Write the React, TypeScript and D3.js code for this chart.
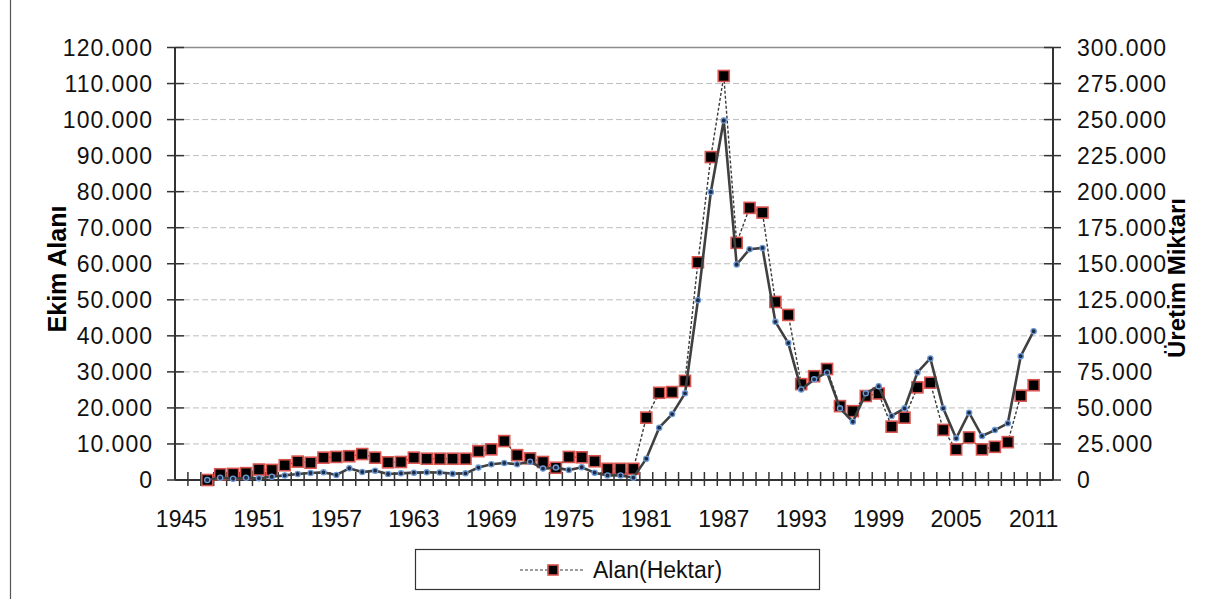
import { useEffect, useRef } from 'react';
import * as d3 from 'd3';

/**
 * Dual-axis line chart: ekim alanı (hectares, left axis) and üretim miktarı
 * (right axis) per year, 1947–2011. Category axis runs 1945–2012 with a
 * label every sixth year, Excel style.
 */

const WIDTH = 1219;
const HEIGHT = 599;
const PLOT = { left: 175, right: 1053, top: 47.5, bottom: 480 } as const;

const FONT = 'Liberation Sans, Arial, Helvetica, sans-serif';

const CATEGORY_YEARS = d3.range(1945, 2013);
const DATA_YEARS = d3.range(1947, 2012);

const alanHektar = [
  0, 1600, 1700, 1900, 2900, 2800, 4100, 5100, 4800, 6200,
  6400, 6600, 7200, 6200, 4900, 5000, 6200, 5900, 5900, 5900,
  5900, 8000, 8500, 10800, 6900, 6000, 5000, 3400, 6400, 6300,
  5200, 3100, 3100, 3100, 17300, 24200, 24400, 27500, 60400, 89600,
  112100, 65800, 75500, 74200, 49400, 45800, 26600, 28800, 30800, 20500,
  19100, 23300, 24000, 14800, 17300, 25700, 27000, 13900, 8500, 11800,
  8500, 9200, 10500, 23400, 26300,
];

const uretimMiktari = [
  0, 1600, 900, 1600, 1200, 2300, 3200, 4200, 4900, 5300,
  3500, 8100, 5500, 6500, 4200, 4600, 5100, 5300, 5200, 4400,
  4600, 8600, 10900, 11800, 10900, 12700, 7900, 8600, 6900, 8800,
  5100, 3200, 3200, 1600, 14800, 36300, 45700, 60100, 124700, 199800,
  249400, 149500, 160100, 161000, 109700, 95000, 62800, 69800, 74600, 49700,
  40400, 60100, 65100, 44400, 49700, 74600, 84300, 49700, 28900, 46700,
  30500, 34600, 39300, 85900, 103200,
];

const leftTicks = d3.range(0, 120001, 10000);
const rightTicks = d3.range(0, 300001, 25000);
const xLabelYears = d3.range(1945, 2012, 6);

const LEGEND_LABEL = 'Alan(Hektar)';
const LEFT_TITLE = 'Ekim Alanı';
const RIGHT_TITLE = 'Üretim Miktarı';

const trFormat = d3
  .formatLocale({ decimal: ',', thousands: '.', grouping: [3], currency: ['', ''] })
  .format(',');

export default function App() {
  const svgRef = useRef<SVGSVGElement | null>(null);

  useEffect(() => {
    const svgEl = svgRef.current;
    if (!svgEl) return;
    const svg = d3.select(svgEl);
    svg.selectAll('*').remove();

    const xScale = d3
      .scaleBand<number>()
      .domain(CATEGORY_YEARS)
      .range([PLOT.left, PLOT.right])
      .padding(0);
    const xCenter = (year: number) => (xScale(year) ?? 0) + xScale.bandwidth() / 2;
    const yLeft = d3.scaleLinear().domain([0, 120000]).range([PLOT.bottom, PLOT.top]);
    const yRight = d3.scaleLinear().domain([0, 300000]).range([PLOT.bottom, PLOT.top]);

    // page frame line on the far left
    svg
      .append('line')
      .attr('x1', 10.5)
      .attr('x2', 10.5)
      .attr('y1', 0)
      .attr('y2', HEIGHT)
      .attr('stroke', '#555')
      .attr('stroke-width', 1.2);

    // ---- grid ------------------------------------------------------------
    svg
      .append('g')
      .selectAll('line')
      .data(leftTicks.filter((d) => d > 0 && d < 120000))
      .join('line')
      .attr('x1', PLOT.left)
      .attr('x2', PLOT.right)
      .attr('y1', (d) => yLeft(d))
      .attr('y2', (d) => yLeft(d))
      .attr('stroke', '#bdbdbd')
      .attr('stroke-width', 1)
      .attr('stroke-dasharray', '6 3');
    svg
      .append('line')
      .attr('x1', PLOT.left)
      .attr('x2', PLOT.right)
      .attr('y1', yLeft(120000))
      .attr('y2', yLeft(120000))
      .attr('stroke', '#8c8c8c')
      .attr('stroke-width', 1.5);

    const axisColor = '#333333';

    // ---- left axis -------------------------------------------------------
    const left = svg.append('g');
    left
      .append('line')
      .attr('x1', PLOT.left)
      .attr('x2', PLOT.left)
      .attr('y1', PLOT.top)
      .attr('y2', PLOT.bottom)
      .attr('stroke', axisColor)
      .attr('stroke-width', 2);
    left
      .selectAll('g.tick')
      .data(leftTicks)
      .join('g')
      .attr('class', 'tick')
      .attr('transform', (d) => `translate(${PLOT.left}, ${yLeft(d)})`)
      .each(function (d) {
        const tick = d3.select(this);
        tick.append('line').attr('x1', -8).attr('x2', 9).attr('stroke', axisColor).attr('stroke-width', 1.5);
        tick
          .append('text')
          .attr('x', -22)
          .attr('dy', '0.35em')
          .attr('text-anchor', 'end')
          .attr('font-family', FONT)
          .attr('font-size', 23)
          .attr('letter-spacing', 1)
          .attr('fill', '#111')
          .text(trFormat(d));
      });
    left
      .append('text')
      .attr('transform', `translate(57, 269) rotate(-90)`)
      .attr('text-anchor', 'middle')
      .attr('dy', '0.35em')
      .attr('font-family', FONT)
      .attr('font-size', 25)
      .attr('font-weight', 'bold')
      .attr('fill', '#000')
      .text(LEFT_TITLE);

    // ---- right axis ------------------------------------------------------
    const right = svg.append('g');
    right
      .append('line')
      .attr('x1', PLOT.right)
      .attr('x2', PLOT.right)
      .attr('y1', PLOT.top)
      .attr('y2', PLOT.bottom)
      .attr('stroke', axisColor)
      .attr('stroke-width', 2);
    right
      .selectAll('g.tick')
      .data(rightTicks)
      .join('g')
      .attr('class', 'tick')
      .attr('transform', (d) => `translate(${PLOT.right}, ${yRight(d)})`)
      .each(function (d) {
        const tick = d3.select(this);
        tick.append('line').attr('x1', -9).attr('x2', 8).attr('stroke', axisColor).attr('stroke-width', 1.5);
        tick
          .append('text')
          .attr('x', 24)
          .attr('dy', '0.35em')
          .attr('text-anchor', 'start')
          .attr('font-family', FONT)
          .attr('font-size', 23)
          .attr('letter-spacing', 1)
          .attr('fill', '#111')
          .text(trFormat(d));
      });
    right
      .append('text')
      .attr('transform', `translate(1177, 278) rotate(-90)`)
      .attr('text-anchor', 'middle')
      .attr('dy', '0.35em')
      .attr('font-family', FONT)
      .attr('font-size', 24)
      .attr('font-weight', 'bold')
      .attr('fill', '#000')
      .text(RIGHT_TITLE);

    // ---- x axis ----------------------------------------------------------
    const xAxis = svg.append('g').attr('transform', `translate(0, ${PLOT.bottom})`);
    xAxis
      .append('line')
      .attr('x1', PLOT.left)
      .attr('x2', PLOT.right)
      .attr('stroke', axisColor)
      .attr('stroke-width', 2);
    xAxis
      .selectAll('line.tick')
      .data(CATEGORY_YEARS.slice(1))
      .join('line')
      .attr('class', 'tick')
      .attr('x1', (d) => xScale(d) ?? 0)
      .attr('x2', (d) => xScale(d) ?? 0)
      .attr('y1', -8)
      .attr('y2', 6)
      .attr('stroke', axisColor)
      .attr('stroke-width', 1.5);
    xAxis
      .selectAll('text')
      .data(xLabelYears)
      .join('text')
      .attr('x', (d) => xCenter(d))
      .attr('y', 47)
      .attr('text-anchor', 'middle')
      .attr('font-family', FONT)
      .attr('font-size', 23)
      .attr('fill', '#111')
      .text((d) => String(d));

    // ---- series ----------------------------------------------------------
    const alanPoints = DATA_YEARS.map((year, i) => ({ x: xCenter(year), y: yLeft(alanHektar[i]) }));
    const uretimPoints = DATA_YEARS.map((year, i) => ({ x: xCenter(year), y: yRight(uretimMiktari[i]) }));
    const line = d3
      .line<{ x: number; y: number }>()
      .x((p) => p.x)
      .y((p) => p.y);

    svg
      .append('path')
      .datum(alanPoints)
      .attr('fill', 'none')
      .attr('stroke', '#3a3a3a')
      .attr('stroke-width', 1.4)
      .attr('stroke-dasharray', '3 2')
      .attr('d', line);
    svg
      .append('g')
      .selectAll('rect')
      .data(alanPoints)
      .join('rect')
      .attr('x', (p) => p.x - 5.5)
      .attr('y', (p) => p.y - 5.5)
      .attr('width', 11)
      .attr('height', 11)
      .attr('fill', '#000')
      .attr('stroke', '#d9534f')
      .attr('stroke-width', 1.6);

    svg
      .append('path')
      .datum(uretimPoints)
      .attr('fill', 'none')
      .attr('stroke', '#404040')
      .attr('stroke-width', 2.6)
      .attr('d', line);
    svg
      .append('g')
      .selectAll('circle')
      .data(uretimPoints)
      .join('circle')
      .attr('cx', (p) => p.x)
      .attr('cy', (p) => p.y)
      .attr('r', 2.6)
      .attr('fill', '#1f2a44')
      .attr('stroke', '#6b9ad6')
      .attr('stroke-width', 1.3);

    // ---- legend ----------------------------------------------------------
    const legend = svg.append('g');
    legend
      .append('rect')
      .attr('x', 415.5)
      .attr('y', 549.5)
      .attr('width', 404)
      .attr('height', 40)
      .attr('fill', '#fff')
      .attr('stroke', '#333')
      .attr('stroke-width', 1.2);
    legend
      .append('line')
      .attr('x1', 520)
      .attr('x2', 585)
      .attr('y1', 570)
      .attr('y2', 570)
      .attr('stroke', '#3a3a3a')
      .attr('stroke-width', 1.2)
      .attr('stroke-dasharray', '3 2');
    legend
      .append('rect')
      .attr('x', 548)
      .attr('y', 565)
      .attr('width', 10)
      .attr('height', 10)
      .attr('fill', '#000')
      .attr('stroke', '#d9534f')
      .attr('stroke-width', 1.6);
    legend
      .append('text')
      .attr('x', 593)
      .attr('y', 570)
      .attr('dy', '0.35em')
      .attr('font-family', FONT)
      .attr('font-size', 23)
      .attr('fill', '#111')
      .text(LEGEND_LABEL);
  }, []);

  return (
    <svg
      ref={svgRef}
      width={WIDTH}
      height={HEIGHT}
      viewBox={`0 0 ${WIDTH} ${HEIGHT}`}
      style={{ position: 'absolute', left: 0, top: 0, display: 'block', background: '#fff' }}
      role="img"
      aria-label="Ekim alanı ve üretim miktarı, 1947-2011"
    />
  );
}
